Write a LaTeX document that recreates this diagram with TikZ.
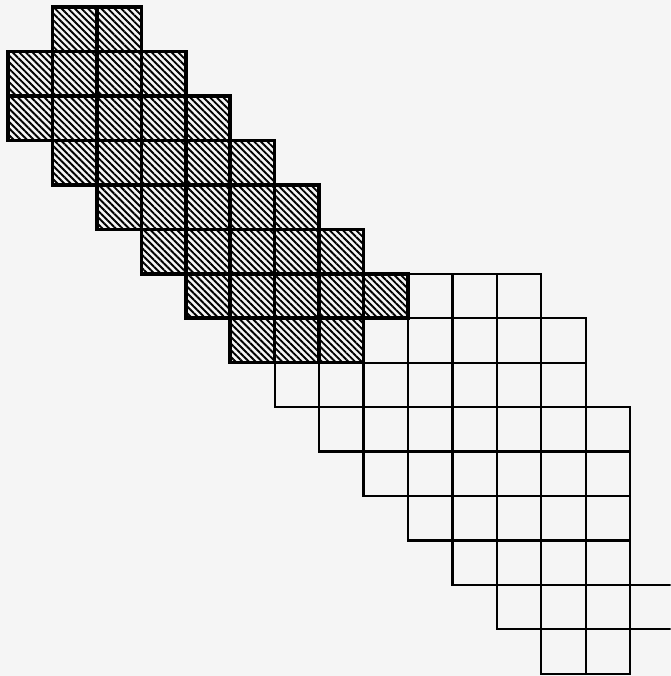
\documentclass[tikz,border=0pt]{standalone}
\usepackage{xcolor}
\usepackage{tikz}
\usetikzlibrary{patterns.meta}

\definecolor{paper}{gray}{0.96}

\begin{document}
\begin{tikzpicture}[
    shaded/.style={draw, line width=2.3pt,
      pattern={Lines[angle=-45, distance=3pt, line width=1.2pt]}},
    blank/.style={draw, line width=1.4pt}
  ]
    \clip (-0.18,0.16) rectangle (14.91,-15.05);
    \fill[paper] (-0.18,0.16) rectangle (14.91,-15.05);

    % open cells: row/first column/last column
    \foreach \row/\first/\last in {6/9/11, 7/8/12, 8/6/12, 9/7/13, 10/8/13,
        11/9/13, 12/10/13, 13/11/14, 14/12/13}
      \foreach \col in {\first,...,\last}
        \draw[blank] (\col,-\row) rectangle ++(1,-1);

    % hatched cells
    \foreach \row/\first/\last in {0/1/2, 1/0/3, 2/0/4, 3/1/5, 4/2/6,
        5/3/7, 6/4/8, 7/5/7}
      \foreach \col in {\first,...,\last}
        \draw[shaded] (\col,-\row) rectangle ++(1,-1);
  \end{tikzpicture}
\end{document}
